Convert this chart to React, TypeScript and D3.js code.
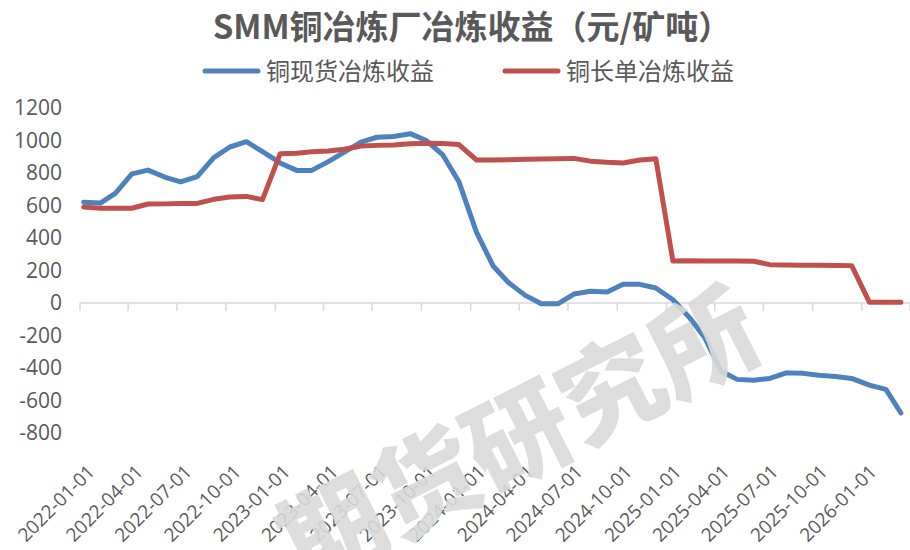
import { useEffect, useRef } from "react"
import * as d3 from "d3"

// monthly sample dates
const dates = [
  "2022-01-08", "2022-02-08", "2022-03-08", "2022-04-08", "2022-05-08", "2022-06-08",
  "2022-07-08", "2022-08-08", "2022-09-08", "2022-10-08", "2022-11-08", "2022-12-08",
  "2023-01-10", "2023-02-10", "2023-03-10", "2023-04-10", "2023-05-10", "2023-06-10",
  "2023-07-10", "2023-08-10", "2023-09-10", "2023-10-10", "2023-11-10", "2023-12-10",
  "2024-01-12", "2024-02-12", "2024-03-12", "2024-04-12", "2024-05-12", "2024-06-12",
  "2024-07-12", "2024-08-12", "2024-09-12", "2024-10-12", "2024-11-12", "2024-12-12",
  "2025-01-13", "2025-02-13", "2025-03-13", "2025-04-13", "2025-05-13", "2025-06-13",
  "2025-07-13", "2025-08-13", "2025-09-13", "2025-10-13", "2025-11-13", "2025-12-13",
  "2026-01-15", "2026-02-15", "2026-03-15"
]

// 铜现货冶炼收益
const spotMargin = [
  620, 615, 675, 795, 818, 775, 745, 778, 895, 960, 993, 931,
  862, 816, 816, 870, 929, 990, 1020, 1025, 1042, 1000, 911, 747,
  435, 228, 125, 47, -5, -5, 55, 72, 68, 115, 115, 92,
  20, -90, -210, -420, -470, -476, -464, -430, -433, -445, -452, -464,
  -505, -532, -677
]

// 铜长单冶炼收益
const longTermMargin = [
  590, 583, 583, 583, 609, 610, 612, 613, 638, 652, 656, 636,
  918, 922, 931, 936, 946, 966, 970, 972, 980, 983, 982, 975,
  880, 880, 882, 885, 886, 887, 890, 873, 866, 862, 880, 888,
  258, 260, 258, 259, 258, 257, 236, 234, 233, 232, 231, 230,
  5, 5, 5
]

const yTicks = [1200, 1000, 800, 600, 400, 200, 0, -200, -400, -600, -800]

const xTickLabels = [
  "2022-01-01", "2022-04-01", "2022-07-01", "2022-10-01",
  "2023-01-01", "2023-04-01", "2023-07-01", "2023-10-01",
  "2024-01-01", "2024-04-01", "2024-07-01", "2024-10-01",
  "2025-01-01", "2025-04-01", "2025-07-01", "2025-10-01",
  "2026-01-01"
]

const title = "SMM铜冶炼厂冶炼收益（元/矿吨）"
const seriesNames = ["铜现货冶炼收益", "铜长单冶炼收益"]
const colors = ["#4F81BD", "#C0504D"]

export default function App() {
  const svgRef = useRef<SVGSVGElement>(null)

  useEffect(() => {
    if (!svgRef.current) return
    const svg = d3.select(svgRef.current)
    svg.selectAll("*").remove()

    const parse = d3.timeParse("%Y-%m-%d")
    const numFont = "'Open Sans', sans-serif"
    const cjkFont = "'Noto Sans CJK SC', sans-serif"
    const textColor = "#595959"

    const x = d3
      .scaleTime()
      .domain([parse("2022-01-01") as Date, parse("2026-04-01") as Date])
      .range([80, 910])

    const y = d3.scaleLinear().domain([-800, 1200]).range([433, 108])

    // title
    svg.append("text")
      .attr("x", 472)
      .attr("y", 39)
      .attr("text-anchor", "middle")
      .attr("fill", textColor)
      .style("font-family", cjkFont)
      .style("font-weight", "bold")
      .style("font-size", "33px")
      .text(title)

    // legend
    const legendX = [205, 505]
    seriesNames.forEach((name, i) => {
      svg.append("line")
        .attr("x1", legendX[i])
        .attr("x2", legendX[i] + 53)
        .attr("y1", 71)
        .attr("y2", 71)
        .attr("stroke", colors[i])
        .attr("stroke-width", 5)
        .attr("stroke-linecap", "round")
      svg.append("text")
        .attr("x", legendX[i] + 61)
        .attr("y", 80)
        .attr("fill", textColor)
        .style("font-family", cjkFont)
        .style("font-size", "24px")
        .text(name)
    })

    // y labels
    svg.selectAll(".y-label")
      .data(yTicks)
      .enter()
      .append("text")
      .attr("class", "y-label")
      .attr("x", 62)
      .attr("y", (d) => y(d))
      .attr("dy", "0.35em")
      .attr("text-anchor", "end")
      .attr("fill", textColor)
      .style("font-family", numFont)
      .style("font-size", "21px")
      .text((d) => d)

    // x axis at zero
    const y0 = y(0)
    svg.append("line")
      .attr("x1", 80)
      .attr("x2", 910)
      .attr("y1", y0)
      .attr("y2", y0)
      .attr("stroke", "#D9D9D9")
      .attr("stroke-width", 1.5)

    const tickDates = xTickLabels.map((s) => parse(s) as Date)
    svg.selectAll(".x-tick")
      .data([...tickDates, parse("2026-04-01") as Date])
      .enter()
      .append("line")
      .attr("class", "x-tick")
      .attr("x1", (d) => x(d))
      .attr("x2", (d) => x(d))
      .attr("y1", y0)
      .attr("y2", y0 + 8)
      .attr("stroke", "#D9D9D9")
      .attr("stroke-width", 1.5)

    svg.selectAll(".x-label")
      .data(tickDates)
      .enter()
      .append("text")
      .attr("class", "x-label")
      .attr("transform", (d) => `translate(${x(d) + 16},${473}) rotate(-45)`)
      .attr("text-anchor", "end")
      .attr("fill", textColor)
      .style("font-family", numFont)
      .style("font-size", "19px")
      .text((_, i) => xTickLabels[i])

    // series lines
    const parsedDates = dates.map((s) => parse(s) as Date)
    const line = d3
      .line<number>()
      .x((_, i) => x(parsedDates[i]))
      .y((d) => y(d))
      .curve(d3.curveLinear)

    ;[spotMargin, longTermMargin].forEach((values, i) => {
      svg.append("path")
        .datum(values)
        .attr("fill", "none")
        .attr("stroke", colors[i])
        .attr("stroke-width", 5)
        .attr("stroke-linejoin", "round")
        .attr("stroke-linecap", "round")
        .attr("d", line)
    })

    // watermark
    svg.append("text")
      .attr("transform", "translate(515,430) rotate(-27)")
      .attr("text-anchor", "middle")
      .attr("dominant-baseline", "central")
      .attr("fill", "#D9D9D9")
      .attr("fill-opacity", 0.9)
      .style("font-family", cjkFont)
      .style("font-weight", 900)
      .style("font-size", "104px")
      .text("期货研究所")
  }, [])

  return (
    <div style={{ position: "absolute", left: 0, top: 0, width: 910, height: 550, background: "#fff" }}>
      <svg ref={svgRef} width={910} height={550} />
    </div>
  )
}
